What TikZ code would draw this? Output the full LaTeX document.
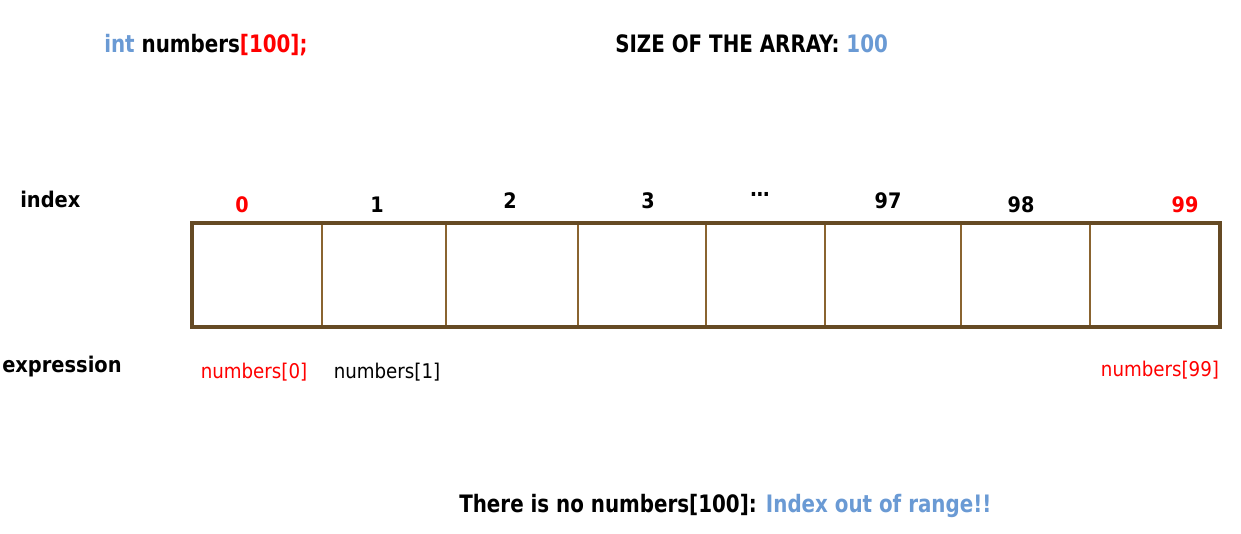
\documentclass[tikz,border=0pt]{standalone}
\usepackage{fontspec}
\setmainfont{DejaVu Sans Condensed}
\newfontfamily\headfont{DejaVu Sans Condensed}[FakeStretch=0.92]
\usepackage{xcolor}
\definecolor{codeblue}{RGB}{106,154,212}
\definecolor{idxred}{RGB}{255,0,0}
\definecolor{arrframe}{RGB}{101,74,36}
\definecolor{arrsep}{RGB}{138,100,48}
\usepackage{tikz}
\usetikzlibrary{positioning}
\tikzset{
  headtxt/.style={anchor=base west, inner sep=0pt, font=\headfont\fontsize{18}{20}\selectfont\bfseries},
  sidetxt/.style={anchor=base west, inner sep=0pt, font=\fontsize{16.2}{18}\selectfont\bfseries},
  idxtxt/.style={anchor=base, inner sep=0pt, font=\fontsize{16}{18}\selectfont\bfseries},
  exprtxt/.style={anchor=base, inner sep=0pt, font=\fontsize{15.2}{17}\selectfont},
  frame/.style={draw=arrframe, line width=3pt},
  cellsep/.style={draw=arrsep, line width=2.2pt},
}

\begin{document}
\begin{tikzpicture}[x=0.75pt,y=-0.75pt]
  \useasboundingbox (0,0) rectangle (1241,533);

  % declaration and size
  \node[headtxt] (decl) at (104,52) {\textcolor{codeblue}{int} numbers\textcolor{idxred}{[100];}};
  \node[headtxt] (size) at (615,52) {SIZE OF THE ARRAY: \textcolor{codeblue}{100}};

  % row captions
  \node[sidetxt] (index) at (20,207) {index};
  \node[sidetxt] (expr) at (2,372) {expression};

  % the array cells
  \foreach \x in {322,446,578,706,825,961,1090}
    \draw[cellsep] (\x,223) -- (\x,327);
  \draw[frame] (192,223) rectangle (1220,327);

  % index labels
  \foreach \name/\x/\y/\col/\txt in {i0/242/212/idxred/0, i1/377/212/black/1, i2/510/208/black/2,
      i3/648/208/black/3, idots/760/196/black/\ldots, i97/888/208/black/97, i98/1021/212/black/98,
      i99/1185/212/idxred/99}
    \node[idxtxt, text=\col] (\name) at (\x,\y) {\txt};

  % access expressions
  \node[exprtxt, text=idxred] (e0) at (254,378) {numbers[0]};
  \node[exprtxt] (e1) at (387,378) {numbers[1]};
  \node[exprtxt, text=idxred] (e99) at (1160,376) {numbers[99]};

  % out of range note
  \node[headtxt] (note) at (459,512) {There is no numbers[100]: \textcolor{codeblue}{Index out of range!!}};
\end{tikzpicture}
\end{document}
